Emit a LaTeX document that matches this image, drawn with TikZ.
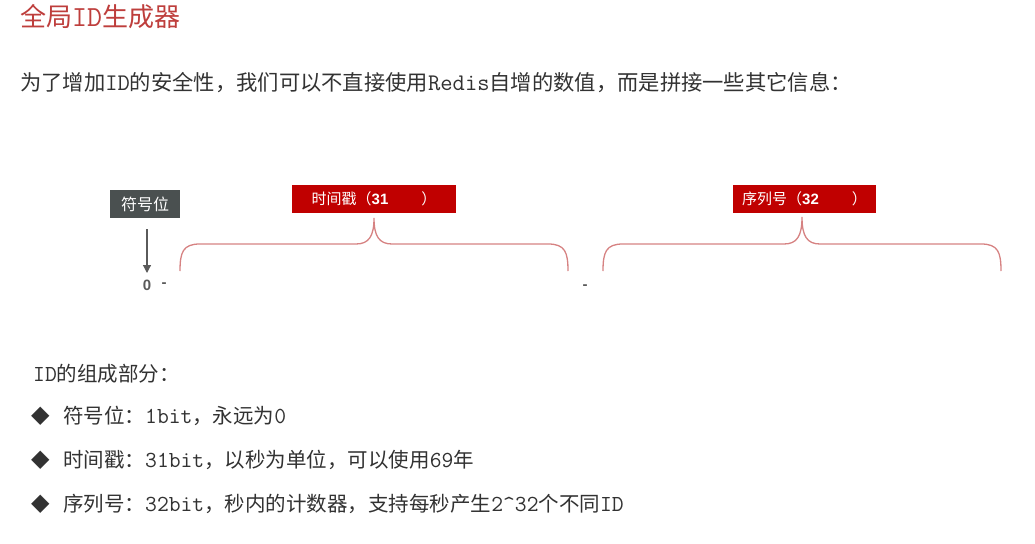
\documentclass[tikz,border=0pt]{standalone}
\usepackage{fontspec}
\setmainfont{Noto Sans CJK SC}
\setsansfont{Liberation Sans}
\newfontfamily\djv{DejaVu Sans}
\newfontfamily\lmf[Scale=1.12]{Latin Modern Mono}
\usetikzlibrary{arrows.meta}
\newcommand{\lm}[1]{{\lmf #1}}
\definecolor{titlered}{RGB}{190,62,60}
\definecolor{bodytxt}{RGB}{50,50,50}
\definecolor{boxred}{RGB}{192,0,0}
\definecolor{boxgray}{RGB}{74,80,80}
\definecolor{bracecol}{RGB}{214,130,130}
\definecolor{arrowgray}{RGB}{90,90,90}
\tikzset{
  bodytext/.style={anchor=west, text=bodytxt, inner sep=0pt, font=\fontsize{20.5}{24}\selectfont},
  redbox/.style={fill=boxred, text=white, inner sep=0pt, font=\fontsize{15}{18}\selectfont},
  graybox/.style={fill=boxgray, text=white, inner sep=0pt, font=\fontsize{16}{19}\selectfont},
  brace/.style={draw=bracecol, line width=1.3pt},
  smalltxt/.style={text=arrowgray, inner sep=0pt, font=\sffamily\bfseries\fontsize{15}{17}\selectfont},
  bullet/.style={anchor=west, text=bodytxt, inner sep=0pt, font=\djv\fontsize{24}{26}\selectfont}
}
\begin{document}
\begin{tikzpicture}[x=1pt,y=-1pt]
\useasboundingbox (0,0) rectangle (1035,543);
% title
\node[anchor=west, text=titlered, inner sep=0pt, font=\fontsize{26}{30}\selectfont] (title) at (20,17) {全局\lm{ID}生成器};
\node[bodytext, font=\fontsize{21.3}{25}\selectfont] (sub) at (20,83) {为了增加\lm{ID}的安全性，我们可以不直接使用\lm{Redis}自增的数值，而是拼接一些其它信息：};
% boxes
\node[graybox, minimum width=70pt, minimum height=28pt] (sbox) at (145,204) {符号位};
\node[redbox, minimum width=164pt, minimum height=28pt] (tbox) at (374,199) {时间戳（{\sffamily\bfseries 31}\hspace{2.2em}）};
\node[redbox, minimum width=143pt, minimum height=28pt] (qbox) at (804.5,199) {序列号（{\sffamily\bfseries 32}\hspace{2.2em}）};
% zero and dashes
\node[smalltxt] (zero) at (147,285) {0};
\node[smalltxt] (dash1) at (164,285) {-};
\node[smalltxt] (dash2) at (585,287) {-};
\draw[arrowgray, line width=1.2pt, -{Triangle[width=8pt,length=8pt]}] (147,229) -- (147,273);
% braces
\draw[brace] (180,271) .. controls (180,252) and (183,244) .. (200,244) -- (356,244)
  .. controls (369,244) and (374,236) .. (374,218)
  .. controls (374,236) and (379,244) .. (392,244) -- (548,244)
  .. controls (565,244) and (568,252) .. (568,271);
\draw[brace] (603,271) .. controls (603,252) and (606,244) .. (623,244) -- (784,244)
  .. controls (797,244) and (802,236) .. (802,217)
  .. controls (802,236) and (807,244) .. (820,244) -- (981,244)
  .. controls (998,244) and (1001,252) .. (1001,271);
% list
\node[bodytext] (head) at (33,374) {\lm{ID}的组成部分：};
\node[bullet] (b1) at (31,416) {◆};
\node[bodytext] (t1) at (63,416) {符号位：\lm{1bit}，永远为\lm{0}};
\node[bullet] (b2) at (31,460) {◆};
\node[bodytext] (t2) at (63,460) {时间戳：\lm{31bit}，以秒为单位，可以使用\lm{69}年};
\node[bullet] (b3) at (31,504) {◆};
\node[bodytext] (t3) at (63,504) {序列号：\lm{32bit}，秒内的计数器，支持每秒产生\lm{2\^{}32}个不同\lm{ID}};
\end{tikzpicture}
\end{document}
